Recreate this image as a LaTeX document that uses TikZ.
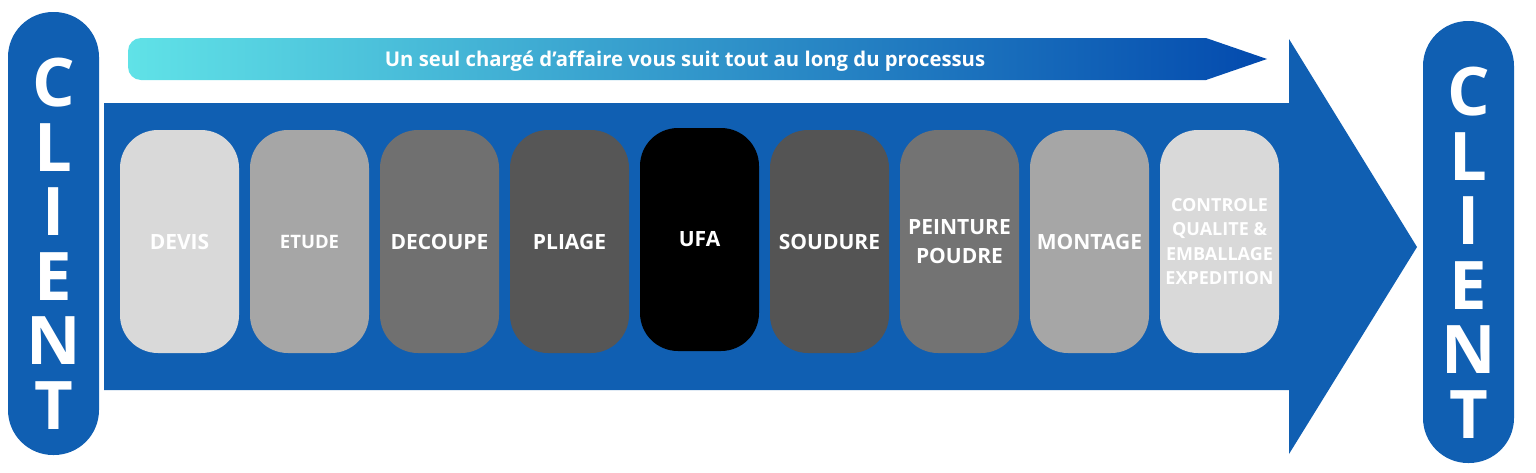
\documentclass[tikz,border=0pt]{standalone}
\usepackage{fontspec}
\setmainfont{Open Sans}
\definecolor{mainblue}{RGB}{16,95,178}
\definecolor{gradL}{RGB}{96,226,231}
\definecolor{gradR}{RGB}{3,74,174}
\definecolor{g1}{HTML}{D9D9D9}
\definecolor{g2}{HTML}{A6A6A6}
\definecolor{g3}{HTML}{707070}
\definecolor{g4}{HTML}{565656}
\definecolor{g5}{HTML}{000000}
\definecolor{g6}{HTML}{545454}
\definecolor{g7}{HTML}{737373}
\tikzset{
  stepbox/.style={fill=#1, draw=none, rounded corners=38pt, minimum width=119pt, minimum height=223pt,
    inner sep=0pt, text=white, align=center, font=\bfseries\fontsize{21}{29}\selectfont},
  pill/.style={fill=mainblue, draw=none, rounded corners=45pt, minimum width=91pt, inner sep=0pt},
  letter/.style={text=white, inner sep=0pt, anchor=base, font=\bfseries\fontsize{67}{67}\selectfont}
}
\begin{document}
\begin{tikzpicture}[x=1pt,y=-1pt]
\useasboundingbox (0,0) rectangle (1536,472);
% top gradient arrow
\shade[left color=gradL, right color=gradR]
  (1206,38) -- (1267,59) -- (1206,80) [rounded corners=13pt] -- (128,80) -- (128,38) [sharp corners] -- cycle;
\node[text=white, inner sep=0pt, font=\bfseries\fontsize{20.3}{22}\selectfont] (title) at (685,61) {Un seul chargé d’affaire vous suit tout au long du processus};
% big arrow
\fill[mainblue] (104,103) -- (1289,103) -- (1289,39) -- (1417,247) -- (1289,454) -- (1289,390) -- (104,390) -- cycle;
% client pills
\node[pill, minimum height=443pt] (cl) at (53.5,233.5) {};
\node[pill, minimum height=442pt] (cr) at (1468.5,242) {};
\foreach \l [count=\i from 0] in {C,L,I,E,N,T}{
  \node[letter] (lc\i) at (53.5,106.5+64.5*\i) {\l};
  \node[letter] (rc\i) at (1468.5,115.5+64.5*\i) {\l};
}
% step boxes
\node[stepbox=g1] (s1) at (179.5,241.5) {DEVIS};
\node[stepbox=g2, font=\bfseries\fontsize{18.5}{24}\selectfont] (s2) at (309.5,241.5) {ETUDE};
\node[stepbox=g3] (s3) at (439.5,241.5) {DECOUPE};
\node[stepbox=g4] (s4) at (569.5,241.5) {PLIAGE};
\node[stepbox=g5] (s5) at (699.5,239.5) {UFA};
\node[stepbox=g6] (s6) at (829.5,241.5) {SOUDURE};
\node[stepbox=g7] (s7) at (959.5,241.5) {PEINTURE\\POUDRE};
\node[stepbox=g2] (s8) at (1089.5,241.5) {MONTAGE};
\node[stepbox=g1, font=\bfseries\fontsize{18}{24.6}\selectfont] (s9) at (1219.5,241.5) {CONTROLE\\QUALITE \&\\EMBALLAGE\\EXPEDITION};
\end{tikzpicture}
\end{document}
